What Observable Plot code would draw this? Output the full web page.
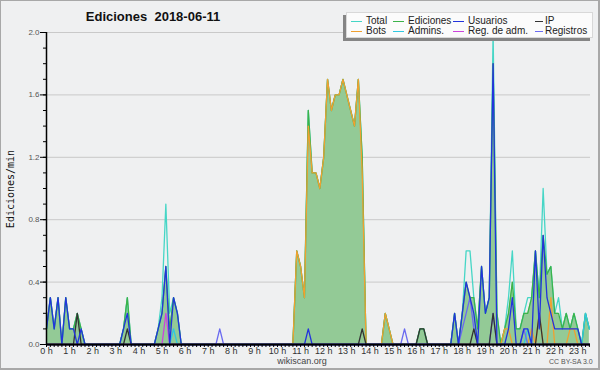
<!DOCTYPE html>
<html>
<head>
<meta charset="utf-8">
<script src="https://cdn.jsdelivr.net/npm/d3@7"></script>
<script src="https://cdn.jsdelivr.net/npm/@observablehq/plot@0.6"></script>
<style>
  html, body { margin: 0; padding: 0; background: #eff0f1; }
  #wrap { position: relative; width: 600px; height: 370px; background: #eff0f1; overflow: hidden; font-family: "Liberation Sans", Arial, sans-serif; }
  #wrap svg { position: absolute; left: 0; top: 0; }
  .abs { position: absolute; white-space: nowrap; }
  #frame { position: absolute; left: 0; top: 0; width: 600px; height: 370px; box-sizing: border-box; border: 1px solid #a8a8a8; border-right-width: 2px; border-bottom-width: 2px; pointer-events: none; }
  #title { left: 153px; top: 9px; transform: translateX(-50%); font-weight: bold; font-size: 13px; line-height: 15px; color: #111; }
  #ylabel { left: 10px; top: 189px; transform: translate(-50%, -50%) rotate(-90deg); font-family: "DejaVu Sans Mono", monospace; font-size: 10px; color: #111; }
  #legend { left: 346px; top: 12px; width: 247px; height: 26px; background: #fbfbfb; border: 1px solid #d8d8d8; box-sizing: border-box; box-shadow: -3px 3px 0 #858585; }
  .lg { position: absolute; font-size: 10px; line-height: 10px; color: #222; }
  .sw { position: absolute; height: 1px; }
  #foot { left: 302px; top: 356px; transform: translateX(-50%); font-size: 9px; color: #444; }
  #cc { left: 549px; top: 358px; font-size: 7px; color: #555; }
</style>
</head>
<body>
<div id="wrap">
  <div id="chart"></div>
  <div id="title" class="abs">Ediciones&nbsp; 2018-06-11</div>
  <div id="ylabel" class="abs">Ediciones/min</div>
  <div id="legend" class="abs"></div>
  <div id="foot" class="abs">wikiscan.org</div>
  <div id="cc" class="abs">CC BY-SA 3.0</div>
  <div id="frame"></div>
</div>
<script>
// 10-minute bins, 0:00 .. 23:30 (edits per minute)
const total = [
  0.1,0.3,0.1,0.3,0,0.3,0.1,0.1,0.2,0.1,0,0,
  0,0,0,0,0,0,0,0,0.1,0.3,0,0,
  0,0,0,0,0,0.1,0.3,0.9,0.2,0.3,0.2,0,
  0,0,0,0,0,0,0,0,0,0,0,0,
  0,0,0,0,0,0,0,0,0,0,0,0,
  0,0,0,0,0,0.6,0.5,0.3,1.5,1.1,1.1,1.0,
  1.2,1.7,1.5,1.6,1.6,1.7,1.6,1.5,1.4,1.7,1.2,0,
  0,0,0,0,0.2,0.1,0,0,0,0,0,0,
  0,0.1,0.1,0,0,0,0,0,0,0,0.2,0,
  0.2,0.6,0.6,0.3,0.1,0.5,0.2,0.3,2.0,0.2,0,0.1,
  0.3,0.6,0.1,0.1,0.2,0.3,0.3,0.6,0.3,1.0,0.45,0.5,
  0.2,0.3,0.1,0.2,0.1,0.2,0.1,0,0.2,0.1
];
const ediciones = [
  0.1,0.3,0.1,0.3,0,0.3,0.1,0.1,0.2,0.1,0,0,
  0,0,0,0,0,0,0,0,0.1,0.3,0,0,
  0,0,0,0,0,0.1,0.2,0.5,0.1,0.3,0.2,0,
  0,0,0,0,0,0,0,0,0,0,0,0,
  0,0,0,0,0,0,0,0,0,0,0,0,
  0,0,0,0,0,0.6,0.5,0.3,1.5,1.1,1.1,1.0,
  1.2,1.7,1.5,1.6,1.6,1.7,1.6,1.5,1.4,1.7,1.2,0,
  0,0,0,0,0.2,0.1,0,0,0,0,0,0,
  0,0.1,0.1,0,0,0,0,0,0,0,0.2,0,
  0.2,0.4,0.3,0.3,0.1,0.5,0.2,0.3,1.8,0.2,0,0.1,
  0.2,0.4,0.1,0.1,0.2,0.2,0.3,0.6,0.3,0.7,0.45,0.5,
  0.2,0.2,0.1,0.2,0.1,0.2,0.1,0,0.2,0.1
];
const usuarios = [
  0.1,0.3,0.1,0.3,0,0.3,0.1,0.1,0,0.1,0,0,
  0,0,0,0,0,0,0,0,0.1,0.2,0,0,
  0,0,0,0,0,0.1,0.2,0.5,0,0.3,0.2,0,
  0,0,0,0,0,0,0,0,0,0,0,0,
  0,0,0,0,0,0,0,0,0,0,0,0,
  0,0,0,0,0,0,0,0,0.1,0,0,0,
  0,0,0,0,0,0,0,0,0,0,0,0,
  0,0,0,0,0,0,0,0,0,0,0,0,
  0,0,0,0,0,0,0,0,0,0,0.2,0,
  0.2,0.4,0.3,0.2,0,0.5,0.2,0.3,1.8,0,0,0,
  0.1,0.3,0,0,0.1,0.1,0,0.6,0.1,0.7,0.3,0.2,
  0.1,0.1,0.1,0.1,0.1,0.1,0.1,0,0,0
];
const ip = [
  0,0,0,0,0,0,0,0,0.2,0,0,0,
  0,0,0,0,0,0,0,0,0,0.1,0,0,
  0,0,0,0,0,0,0,0,0,0,0,0,
  0,0,0,0,0,0,0,0,0,0,0,0,
  0,0,0,0,0,0,0,0,0,0,0,0,
  0,0,0,0,0,0,0,0,0,0,0,0,
  0,0,0,0,0,0,0,0,0,0,0.1,0,
  0,0,0,0,0,0,0,0,0,0,0,0,
  0,0.1,0.1,0,0,0,0,0,0,0,0,0,
  0,0,0,0.1,0,0,0,0,0.2,0,0,0,
  0,0,0,0,0,0,0,0,0.2,0,0,0,
  0,0,0,0,0,0,0,0,0,0
];
const bots = [
  0,0,0,0,0,0,0,0,0,0,0,0,
  0,0,0,0,0,0,0,0,0,0,0,0,
  0,0,0,0,0,0,0,0,0,0,0,0,
  0,0,0,0,0,0,0,0,0,0,0,0,
  0,0,0,0,0,0,0,0,0,0,0,0,
  0,0,0,0,0,0.6,0.5,0.3,1.4,1.1,1.1,1.0,
  1.2,1.7,1.5,1.6,1.6,1.7,1.6,1.5,1.4,1.7,1.1,0,
  0,0,0,0,0.2,0.1,0,0,0,0,0,0,
  0,0,0,0,0,0,0,0,0,0,0,0,
  0,0,0,0,0,0,0,0,0,0,0,0.1,
  0.1,0,0,0,0,0,0.1,0,0.2,0,0,0.3,
  0,0,0,0,0.1,0.1,0,0,0,0
];
const admins = [
  0,0,0,0,0,0,0,0,0,0,0,0,
  0,0,0,0,0,0,0,0,0,0,0,0,
  0,0,0,0,0,0,0,0,0,0.1,0,0,
  0,0,0,0,0,0,0,0,0,0,0,0,
  0,0,0,0,0,0,0,0,0,0,0,0,
  0,0,0,0,0,0,0,0,0,0,0,0,
  0,0,0,0,0,0,0,0,0,0,0,0,
  0,0,0,0,0,0,0,0,0,0,0,0,
  0,0,0,0,0,0,0,0,0,0,0,0,
  0,0,0,0,0,0,0,0,0,0,0,0,
  0,0,0,0,0,0.1,0,0,0,0,0,0,
  0,0,0,0,0,0,0,0,0.2,0.1
];
const regAdm = [
  0,0,0,0,0,0,0,0,0,0,0,0,
  0,0,0,0,0,0,0,0,0,0,0,0,
  0,0,0,0,0,0,0,0.2,0,0,0,0,
  0,0,0,0,0,0,0,0,0,0,0,0,
  0,0,0,0,0,0,0,0,0,0,0,0,
  0,0,0,0,0,0,0,0,0,0,0,0,
  0,0,0,0,0,0,0,0,0,0,0,0,
  0,0,0,0,0,0,0,0,0,0,0,0,
  0,0,0,0,0,0,0,0,0,0,0,0,
  0,0,0,0,0,0,0,0,0,0,0,0,
  0,0,0,0,0,0,0,0,0,0,0,0,
  0,0,0,0,0,0,0,0,0,0
];
const registros = [
  0,0,0,0,0,0,0,0,0,0,0,0,
  0,0,0,0,0,0,0,0,0,0,0,0,
  0,0,0,0,0,0,0,0,0,0,0,0,
  0,0,0,0,0,0,0,0,0,0.1,0,0,
  0,0,0,0,0,0,0,0,0,0,0,0,
  0,0,0,0,0,0,0,0,0,0,0,0,
  0,0,0,0,0,0,0,0,0,0,0,0,
  0,0,0,0,0,0,0,0,0,0.1,0,0,
  0,0,0,0,0,0,0,0,0,0,0,0,
  0.1,0.2,0.3,0.1,0,0,0,0,0.2,0,0,0,
  0,0,0,0,0.1,0,0,0,0,0,0,0,
  0,0,0,0,0,0,0,0,0,0
];
const hourLabels = d3.range(0, 24).map(h => h + " h");
const yMajor = [0, 0.4, 0.8, 1.2, 1.6, 2.0];

const series = [
  {name: "Total", values: total, color: "#46d6c6"},
  {name: "Ediciones", values: ediciones, color: "#3cb34a"},
  {name: "Usuarios", values: usuarios, color: "#2233dd"},
  {name: "IP", values: ip, color: "#333333"},
  {name: "Bots", values: bots, color: "#f0a030"},
  {name: "Admins.", values: admins, color: "#30c8e0"},
  {name: "Reg. de adm.", values: regAdm, color: "#cc44dd"},
  {name: "Registros", values: registros, color: "#6a6af0"}
];
const rows = s => s.values.map((v, i) => ({h: i / 6, v}));

const drawOrder = ["Total", "Ediciones", "Bots", "Admins.", "Reg. de adm.", "Registros", "IP", "Usuarios"];

const plot = Plot.plot({
  width: 600, height: 370,
  marginLeft: 46, marginRight: 10, marginTop: 32, marginBottom: 26,
  style: {background: "transparent", fontFamily: "Liberation Sans, Arial, sans-serif", fontSize: "9px"},
  x: {domain: [0, 23.55], axis: null},
  y: {domain: [0, 2], axis: null},
  marks: [
    Plot.ruleY(yMajor.slice(1), {stroke: "#c9c9c9", strokeWidth: 1}),
    Plot.areaY(rows(series[1]), {x: "h", y: "v", fill: "#93ca96", fillOpacity: 1}),
    ...drawOrder.map(n => {
      const s = series.find(d => d.name === n);
      return Plot.line(rows(s), {x: "h", y: "v", stroke: s.color, strokeWidth: 1.3});
    }),
    Plot.axisY({ticks: d3.range(0, 21).map(i => i / 10), tickSize: 3, tickFormat: () => "", stroke: "#000", label: null}),
    Plot.axisY({ticks: yMajor, tickSize: 6, tickPadding: 1, tickFormat: d3.format(".1f"), stroke: "#000", fill: "#555", fontSize: 8, label: null}),
    Plot.axisX({ticks: d3.range(0, 142).map(i => i / 6), tickSize: 3, tickPadding: 0, stroke: "#000", fill: "#333", fontSize: 9, label: null,
      tickFormat: d => Number.isInteger(d) ? hourLabels[d] : ""}),
    Plot.ruleX([0], {stroke: "#000", strokeWidth: 1.5}),
    Plot.ruleY([0], {stroke: "#000", strokeWidth: 2})
  ]
});
document.getElementById("chart").appendChild(plot);

// legend
const legend = document.getElementById("legend");
const colsX = [{sw: 4, tx: 19}, {sw: 46, tx: 61}, {sw: 106, tx: 121}, {sw: 188, tx: 198}];
const rowsY = [3, 13];
series.forEach((s, i) => {
  const c = i % 4, r = Math.floor(i / 4);
  const sw = document.createElement("div");
  sw.className = "sw";
  sw.style.left = colsX[c].sw + "px";
  sw.style.width = (c === 3 ? 8 : 11) + "px";
  sw.style.top = (rowsY[r] + 5) + "px";
  sw.style.background = s.color;
  legend.appendChild(sw);
  const t = document.createElement("div");
  t.className = "lg";
  t.style.left = colsX[c].tx + "px";
  t.style.top = rowsY[r] + "px";
  t.textContent = s.name;
  legend.appendChild(t);
});
</script>
</body>
</html>
